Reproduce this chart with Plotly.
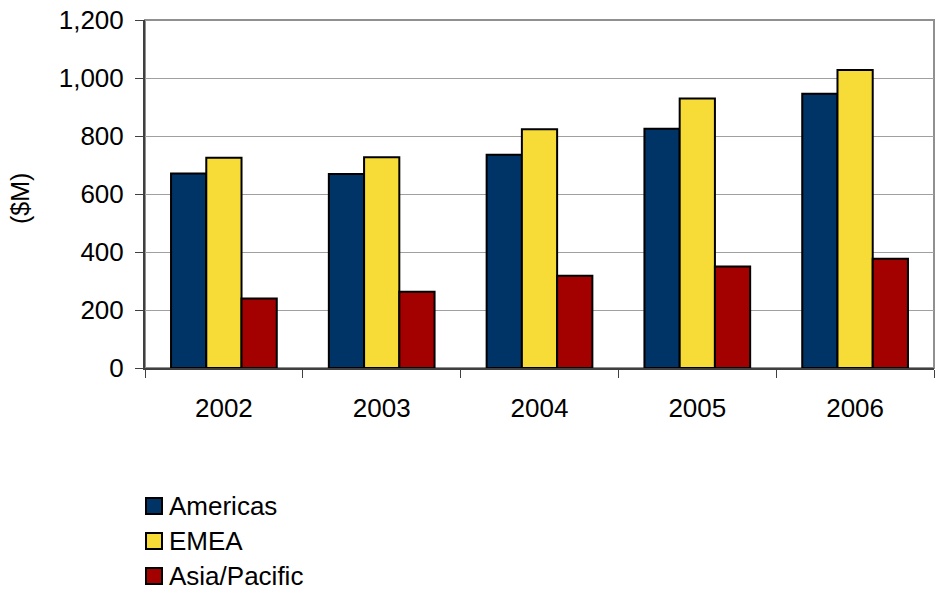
import plotly.graph_objects as go

years = ["2002", "2003", "2004", "2005", "2006"]
americas = [671, 669, 735, 825, 946]
emea = [725, 727, 823, 929, 1028]
asia_pacific = [240, 263, 318, 350, 377]

series_names = ["Americas", "EMEA", "Asia/Pacific"]
series_values = [americas, emea, asia_pacific]
series_colors = ["#003366", "#F7DC37", "#A30000"]

y_ticks = [0, 200, 400, 600, 800, 1000, 1200]
y_tick_labels = ["0", "200", "400", "600", "800", "1,000", "1,200"]

W, H = 935, 592
ML, MR, MT, MB = 145, 1, 20, 224
PW, PH = W - ML - MR, H - MT - MB


def px_to_paper_x(px):
    return (px - ML) / PW


def px_to_paper_y(py):
    return (H - MB - py) / PH


fig = go.Figure()
for name, vals, col in zip(series_names, series_values, series_colors):
    fig.add_trace(go.Bar(
        x=years, y=vals, name=name,
        marker=dict(color=col, line=dict(color="#000000", width=2)),
        showlegend=False,
    ))

font_family = "Liberation Sans, Arial, sans-serif"

fig.update_layout(
    width=W, height=H,
    margin=dict(l=ML, r=MR, t=MT, b=MB),
    paper_bgcolor="white", plot_bgcolor="white",
    barmode="group", bargap=0.33, bargroupgap=0,
    font=dict(family=font_family, size=26, color="#000000"),
    showlegend=False,
    xaxis=dict(
        type="category",
        tickson="boundaries",
        ticks="outside", ticklen=8, tickcolor="#404040", tickwidth=1,
        showline=True, linecolor="#404040", linewidth=2,
        showgrid=False,
        tickfont=dict(size=26),
        ticklabelstandoff=16,
    ),
    yaxis=dict(
        range=[0, 1200],
        tickvals=y_ticks, ticktext=y_tick_labels,
        ticks="outside", ticklen=8, tickcolor="#404040", tickwidth=1,
        showline=True, linecolor="#404040", linewidth=2,
        showgrid=True, gridcolor="#A0A0A0", gridwidth=1,
        zeroline=False,
        tickfont=dict(size=26),
        ticklabelstandoff=6,
    ),
)

# y-axis title
fig.add_annotation(
    text="($M)", xref="paper", yref="paper",
    x=px_to_paper_x(20), y=px_to_paper_y(198),
    xanchor="center", yanchor="middle", textangle=-90,
    showarrow=False, font=dict(family=font_family, size=25, color="#000000"),
)

# gray frame of plot area
fig.add_shape(type="rect", xref="paper", yref="paper", x0=0, x1=1, y0=0, y1=1,
              line=dict(color="#909090", width=2), fillcolor="rgba(0,0,0,0)", layer="below")

# legend (built from the series names and colours)
legend_top = 506
legend_step = 35
for i, (name, col) in enumerate(zip(series_names, series_colors)):
    cy = legend_top + i * legend_step
    fig.add_shape(
        type="rect", xref="paper", yref="paper",
        x0=px_to_paper_x(146), x1=px_to_paper_x(162),
        y0=px_to_paper_y(cy + 8), y1=px_to_paper_y(cy - 8),
        line=dict(color="#000000", width=2), fillcolor=col,
    )
    fig.add_annotation(
        text=name, xref="paper", yref="paper",
        x=px_to_paper_x(167), y=px_to_paper_y(cy),
        xanchor="left", yanchor="middle", showarrow=False,
        font=dict(family=font_family, size=26, color="#000000"),
    )

fig.write_html("out.html")
